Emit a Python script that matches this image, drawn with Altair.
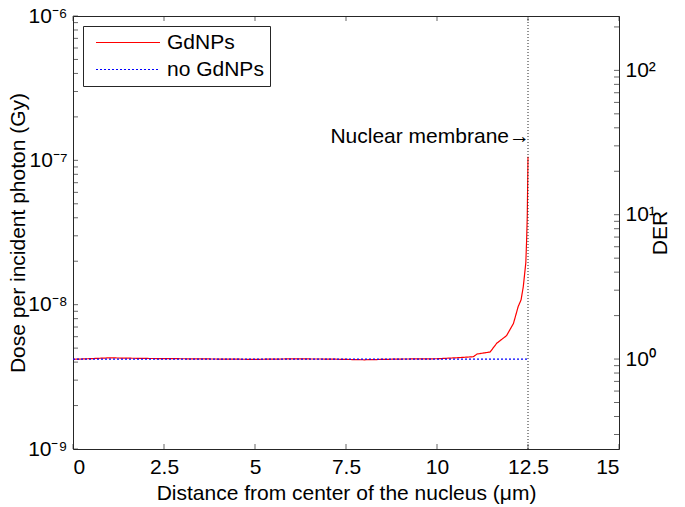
import altair as alt
import pandas as pd

FONT = "Liberation Sans"
AX = "#262626"
FS = 21

# ---- data ----
distance_gd = [0, 1, 2, 3, 4, 5, 6, 7, 8, 9, 10, 10.5, 11.0, 11.1, 11.46,
               11.64, 11.91, 12.1, 12.23, 12.31, 12.37, 12.44, 12.46, 12.48, 12.5]
dose_gd = [4.18e-9, 4.28e-9, 4.24e-9, 4.22e-9, 4.2e-9, 4.18e-9, 4.21e-9, 4.2e-9,
           4.15e-9, 4.2e-9, 4.22e-9, 4.28e-9, 4.36e-9, 4.55e-9, 4.7e-9, 5.4e-9,
           6.1e-9, 7.4e-9, 9.7e-9, 1.08e-8, 1.33e-8, 1.95e-8, 2.7e-8, 4.1e-8, 1.06e-7]
distance_no = [0, 2.5, 5, 7.5, 10, 12.5]
dose_no = [4.2e-9, 4.2e-9, 4.2e-9, 4.2e-9, 4.2e-9, 4.2e-9]
series_names = ["GdNPs", "no GdNPs"]
series_colors = ["#ff0000", "#0000ff"]
series_dash = [[1, 0], [2, 2]]

x_ticks = [0, 2.5, 5, 7.5, 10, 12.5, 15]
x_labels = ["0", "2.5", "5", "7.5", "10", "12.5", "15"]
dose_ticks = [1e-9, 1e-8, 1e-7, 1e-6]
dose_labels = ["10\u207b\u2079", "10\u207b\u2078", "10\u207b\u2077", "10\u207b\u2076"]
der_ticks = [1, 10, 100]
der_labels = ["10\u2070", "10\u00b9", "10\u00b2"]
baseline_dose = 4.2e-9          # dose where DER = 1
membrane_x = 12.5
annotation = ["Nuclear membrane\u2192"]
annotation_dose = [1.45e-7]

# ---- tables ----
df_lines = pd.concat([
    pd.DataFrame({"d": distance_gd, "dose": dose_gd, "series": series_names[0]}),
    pd.DataFrame({"d": distance_no, "dose": dose_no, "series": series_names[1]}),
])
df_der = pd.DataFrame({"d": distance_gd, "der": [v / baseline_dose for v in dose_gd]})

dose_minor = [float(f"{k}e{e}") for e in (-9, -8, -7) for k in range(1, 10)] + [1e-6]
der_lo, der_hi = 1e-9 / baseline_dose, 1e-6 / baseline_dose
der_minor = [v for v in [float(f"{k}e{e}") for e in (-1, 0, 1, 2) for k in range(1, 10)]
             if der_lo <= v <= der_hi]

W, H = 546, 433
X_MIN, X_MAX = 0, 15
xs = alt.Scale(domain=[X_MIN, X_MAX], nice=False, zero=False)
ys = alt.Scale(type="log", domain=[1e-9, 1e-6], nice=False)
ds = alt.Scale(type="log", domain=[der_lo, der_hi], nice=False)


def expr_labels(values, labels):
    e = "''"
    for v, l in zip(values, labels):
        tol = abs(v) * 0.01 if v != 0 else 1e-9
        e = f"(abs(datum.value - {v}) < {tol}) ? '{l}' : " + e
    return e


common = dict(domain=True, domainColor=AX, domainWidth=1, grid=False, ticks=False,
              labelFontSize=FS, labelFont=FONT, labelColor="black", labelOverlap=False,
              titleFontSize=FS, titleFont=FONT, titleFontWeight="normal",
              titleColor="black")

legend = alt.Legend(
    title=None, orient="top-left", offset=10, padding=6, rowPadding=5,
    symbolType="M-8,0H8", symbolSize=64, symbolStrokeWidth=1.2,
    symbolOffset=28.5, labelOffset=28.5, labelFontSize=FS, labelFont=FONT,
    labelColor="black", strokeColor=AX, fillColor="white")

lines = alt.Chart(df_lines).mark_line(strokeWidth=1.2).encode(
    x=alt.X("d:Q", scale=xs, axis=alt.Axis(
        values=x_ticks, labelExpr=expr_labels(x_ticks, x_labels), labelPadding=7,
        title="Distance from center of the nucleus (\u03bcm)",
        titleX=W / 2, titleY=44, titleBaseline="middle", **common)),
    y=alt.Y("dose:Q", scale=ys, axis=alt.Axis(
        values=dose_ticks, labelExpr=expr_labels(dose_ticks, dose_labels), labelPadding=6,
        title="Dose per incident photon (Gy)",
        titleX=-55, titleY=H / 2, titleBaseline="middle", **common)),
    color=alt.Color("series:N", scale=alt.Scale(domain=series_names, range=series_colors),
                    legend=legend),
    strokeDash=alt.StrokeDash("series:N", scale=alt.Scale(domain=series_names, range=series_dash),
                              legend=None),
)

der_layer = alt.Chart(df_der).mark_point(opacity=0).encode(
    x=alt.X("d:Q", scale=xs, axis=alt.Axis(
        orient="top", values=x_ticks, labels=False, title=None, **common)),
    y=alt.Y("der:Q", scale=ds, axis=alt.Axis(
        orient="right", values=der_ticks, labelExpr=expr_labels(der_ticks, der_labels),
        labelPadding=6, title="DER", titleAngle=270,
        titleX=41, titleY=H / 2, titleBaseline="middle", **common)),
)

# inward tick marks drawn through the same scales
tick_style = dict(color=AX, size=5, thickness=1)
ticks_bottom = alt.Chart(pd.DataFrame({"v": x_ticks, "e": 1e-9})).mark_tick(
    orient="vertical", yOffset=-2.5, **tick_style).encode(
    x=alt.X("v:Q", scale=xs, axis=None), y=alt.Y("e:Q", scale=ys, axis=None))
ticks_top = alt.Chart(pd.DataFrame({"v": x_ticks, "e": 1e-6})).mark_tick(
    orient="vertical", yOffset=2.5, **tick_style).encode(
    x=alt.X("v:Q", scale=xs, axis=None), y=alt.Y("e:Q", scale=ys, axis=None))
ticks_left = alt.Chart(pd.DataFrame({"v": dose_minor, "e": X_MIN})).mark_tick(
    orient="horizontal", xOffset=2.5, **tick_style).encode(
    x=alt.X("e:Q", scale=xs, axis=None), y=alt.Y("v:Q", scale=ys, axis=None))
ticks_right = alt.Chart(pd.DataFrame({"v": der_minor, "e": X_MAX})).mark_tick(
    orient="horizontal", xOffset=-2.5, **tick_style).encode(
    x=alt.X("e:Q", scale=xs, axis=None), y=alt.Y("v:Q", scale=ds, axis=None))

rule = alt.Chart(pd.DataFrame({"d": [membrane_x]})).mark_rule(
    strokeDash=[1, 2], color=AX, strokeWidth=1).encode(
    x=alt.X("d:Q", scale=xs, axis=None))

text = alt.Chart(pd.DataFrame({"d": [membrane_x], "dose": annotation_dose, "t": annotation})).mark_text(
    align="right", baseline="middle", dx=2, fontSize=FS, font=FONT, color="black").encode(
    x=alt.X("d:Q", scale=xs, axis=None),
    y=alt.Y("dose:Q", scale=ys, axis=None),
    text="t:N")

chart = alt.layer(lines, der_layer, ticks_bottom, ticks_top, ticks_left, ticks_right,
                  rule, text).resolve_scale(
    x="independent", y="independent"
).properties(
    width=W, height=H,
    padding={"left": 65, "top": 8, "right": 58, "bottom": 56},
    autosize=alt.AutoSizeParams(type="none"),
)

chart.save("out.html", embed_options={"renderer": "svg", "actions": False})
